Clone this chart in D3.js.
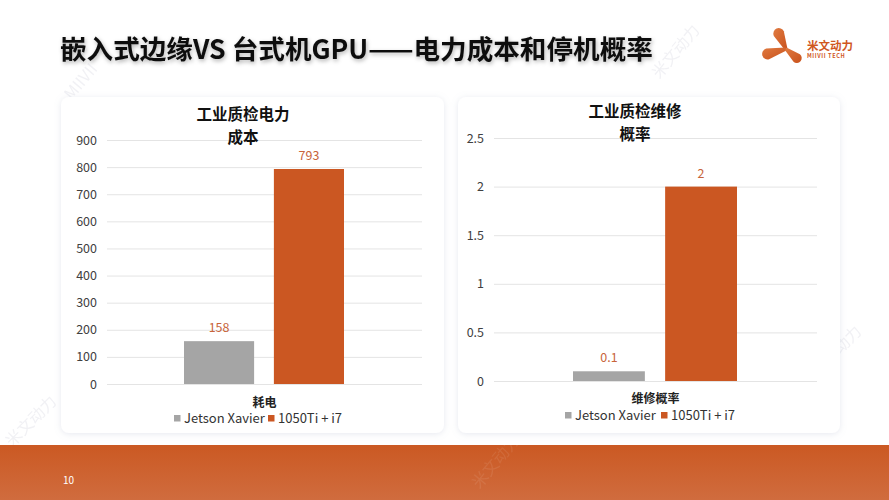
<!DOCTYPE html>
<html><head><meta charset="utf-8">
<script src="https://cdn.jsdelivr.net/npm/d3@7/dist/d3.min.js"></script>
<style>
html,body{margin:0;padding:0;background:#fff;}
svg{display:block;}
text{font-family:"Noto Sans CJK SC","Noto Sans",sans-serif;}
</style></head>
<body><svg id="c" width="889" height="500"></svg>
<script>
const seriesNames = ["Jetson Xavier", "1050Ti + i7"];
const seriesColors = ["#a5a5a5", "#cb5722"];
const chart1Title = ["工业质检电力", "成本"];
const chart1Category = "耗电";
const chart1Values = [158, 793];
const chart1Ticks = [0, 100, 200, 300, 400, 500, 600, 700, 800, 900];
const chart2Title = ["工业质检维修", "概率"];
const chart2Category = "维修概率";
const chart2Values = [0.1, 2];
const chart2Ticks = [0, 0.5, 1, 1.5, 2, 2.5];

const svg = d3.select("#c");
const defs = svg.append("defs");
const sh = defs.append("filter").attr("id","cardShadow").attr("x","-10%").attr("y","-10%").attr("width","120%").attr("height","120%");
sh.append("feDropShadow").attr("dx",0).attr("dy",1).attr("stdDeviation",3).attr("flood-color","#9aa6c0").attr("flood-opacity",0.25);
const tsh = defs.append("filter").attr("id","titleShadow").attr("x","-5%").attr("y","-30%").attr("width","110%").attr("height","160%");
tsh.append("feDropShadow").attr("dx",1).attr("dy",2).attr("stdDeviation",2).attr("flood-color","#000").attr("flood-opacity",0.3);
const bg = defs.append("linearGradient").attr("id","barBg").attr("x1",0).attr("y1",0).attr("x2",0).attr("y2",1);
bg.append("stop").attr("offset","0%").attr("stop-color","#cb5923");
bg.append("stop").attr("offset","100%").attr("stop-color","#d06c3e");
const lg = defs.append("linearGradient").attr("id","logoG").attr("x1",0).attr("y1",0).attr("x2",1).attr("y2",1);
lg.append("stop").attr("offset","0%").attr("stop-color","#e07a40");
lg.append("stop").attr("offset","100%").attr("stop-color","#c9521c");

// watermarks
const wm = [["MIIVII",85,85,-50],["米文动力",680,55,-50],["米文动力",35,425,-45],["米文动力",840,355,-45]];
svg.selectAll("text.wm").data(wm).join("text").attr("class","wm")
  .attr("transform",d=>`translate(${d[1]},${d[2]}) rotate(${d[3]})`)
  .attr("text-anchor","middle").attr("font-size",16).attr("fill","#e8e8ee").attr("opacity",0.6).text(d=>d[0]);

// title
svg.append("text").attr("x",60).attr("y",59).attr("font-size",26.6).attr("font-weight",700).attr("fill","#111")
  .attr("filter","url(#titleShadow)").text("嵌入式边缘VS 台式机GPU——电力成本和停机概率");

// logo
const logo = svg.append("g").attr("transform","translate(786,49)");
function blob(angle, len, r){
  const a = angle*Math.PI/180;
  const ex = Math.cos(a)*len, ey = Math.sin(a)*len;
  const px = -Math.sin(a), py = Math.cos(a);
  const p = d3.path();
  p.moveTo(px*1.5, py*1.5);
  p.lineTo(ex+px*r, ey+py*r);
  p.arc(ex, ey, r, Math.atan2(py,px), Math.atan2(py,px)+Math.PI, true);
  p.lineTo(-px*1.5, -py*1.5);
  p.closePath();
  return p.toString();
}
logo.append("path").attr("d",blob(-115,17,5.5)).attr("fill","url(#logoG)");
logo.append("path").attr("d",blob(165,19,5.5)).attr("fill","url(#logoG)");
logo.append("path").attr("d",blob(40,14,5)).attr("fill","url(#logoG)");
svg.append("text").attr("x",807).attr("y",50).attr("font-size",11.5).attr("font-weight",700).attr("fill","#d0571e").text("米文动力");
svg.append("text").attr("x",807).attr("y",58).attr("font-size",5.6).attr("font-weight",700).attr("fill","#d0571e").attr("letter-spacing",0.6).text("MIIVII TECH");

// bottom bar
svg.append("rect").attr("x",0).attr("y",445).attr("width",889).attr("height",55).attr("fill","url(#barBg)");
svg.append("text").attr("x",63).attr("y",484).attr("font-size",10).attr("fill","#fff").text("10");
svg.append("text").attr("transform","translate(500,465) rotate(-50)").attr("text-anchor","middle").attr("font-size",16).attr("fill","#fff").attr("opacity",0.08).text("米文动力");

function drawChart(cfg){
  const g = svg.append("g");
  g.append("rect").attr("x",cfg.card[0]).attr("y",cfg.card[1]).attr("width",cfg.card[2]).attr("height",cfg.card[3])
    .attr("rx",8).attr("fill","#fff").attr("filter","url(#cardShadow)");
  const y = d3.scaleLinear().domain([0, d3.max(cfg.ticks)]).range([cfg.y0, cfg.y1]);
  const x0 = d3.scaleBand().domain([cfg.category]).range([cfg.x0, cfg.x1]);
  const x1 = d3.scaleBand().domain(seriesNames).range(cfg.barRange).paddingInner(0.22);
  // grid
  const yAxis = d3.axisLeft(y).tickValues(cfg.ticks).tickSize(-(cfg.x1-cfg.x0)).tickPadding(10).tickFormat(d=>String(d));
  const ax = g.append("g").attr("transform",`translate(${cfg.x0},0)`).call(yAxis);
  ax.select(".domain").remove();
  ax.selectAll(".tick line").attr("stroke","#e4e4e4").attr("stroke-width",1);
  ax.selectAll(".tick text").attr("font-size",12.5).attr("fill","#404040").attr("font-family","'Noto Sans CJK SC',sans-serif");
  // bars
  const data = seriesNames.map((s,i)=>({s, v:cfg.values[i], c:seriesColors[i]}));
  g.selectAll("rect.bar").data(data).join("rect").attr("class","bar")
    .attr("x",d=>x1(d.s)).attr("width",x1.bandwidth())
    .attr("y",d=>y(d.v)).attr("height",d=>y(0)-y(d.v)).attr("fill",d=>d.c);
  g.selectAll("text.lbl").data(data).join("text").attr("class","lbl")
    .attr("x",d=>x1(d.s)+x1.bandwidth()/2).attr("y",d=>y(d.v)-9)
    .attr("text-anchor","middle").attr("font-size",12.5).attr("fill","#c8643a").text(d=>String(d.v));
  // title lines
  g.selectAll("text.ttl").data(cfg.title).join("text").attr("class","ttl")
    .attr("x",cfg.titleX).attr("y",(d,i)=>cfg.titleY+i*22.6).attr("text-anchor","middle")
    .attr("font-size",15.5).attr("font-weight",700).attr("fill","#111").text(d=>d);
  // category label
  g.append("text").attr("x",x0(cfg.category)+x0.bandwidth()/2).attr("y",cfg.catY).attr("text-anchor","middle")
    .attr("font-size",12).attr("font-weight",700).attr("fill","#222").text(cfg.category);
  // legend
  const lgd = g.append("g").attr("transform",`translate(${cfg.legendX},${cfg.legendY})`);
  const items = lgd.selectAll("g").data(data).join("g").attr("transform",(d,i)=>`translate(${i*cfg.legendStep},0)`);
  items.append("rect").attr("x",0).attr("y",-8).attr("width",6.5).attr("height",6.5).attr("fill",d=>d.c);
  items.append("text").attr("x",10).attr("y",0).attr("font-size",13).attr("fill","#333").text(d=>d.s);
}

drawChart({card:[61,97,383,336], x0:107, x1:422, y0:384, y1:140, barRange:[184,344],
  ticks:chart1Ticks, values:chart1Values, category:chart1Category, title:chart1Title, titleX:243, titleY:120,
  catY:407, legendX:174, legendY:423, legendStep:94});
drawChart({card:[458,97,382,336], x0:494, x1:817, y0:381, y1:138, barRange:[573,737],
  ticks:chart2Ticks, values:chart2Values, category:chart2Category, title:chart2Title, titleX:635, titleY:117,
  catY:403, legendX:565, legendY:420, legendStep:96});
</script></body></html>
